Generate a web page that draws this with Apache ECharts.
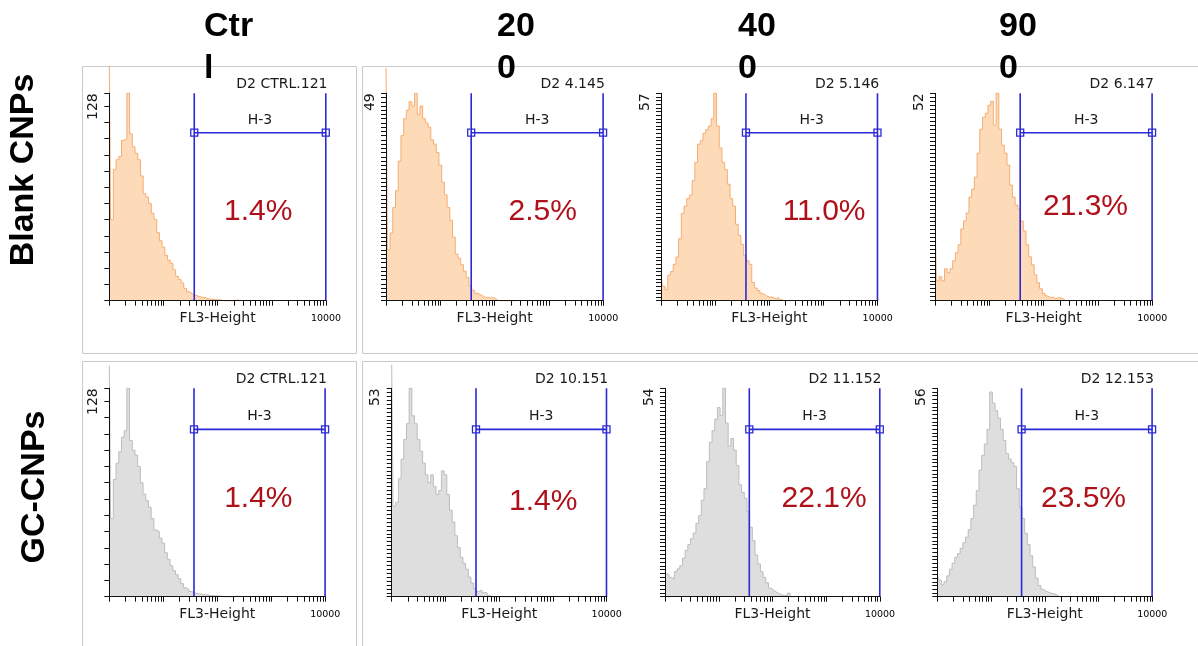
<!DOCTYPE html>
<html><head><meta charset="utf-8">
<script src="https://cdn.jsdelivr.net/npm/echarts@6/dist/echarts.min.js"></script>
<style>html,body{margin:0;padding:0;background:#fff}#c{width:1198px;height:646px}</style>
</head><body><div id="c"></div>
<script>
// ---------- data ----------
// histogram bin centres, log10(FL3-Height) in decades
const bins = [0.00,0.05,0.10,0.15,0.20,0.25,0.30,0.35,0.40,0.45,0.50,0.55,0.60,0.65,0.70,0.75,0.80,0.85,0.90,0.95,
              1.00,1.05,1.10,1.15,1.20,1.25,1.30,1.35,1.40,1.45,1.50,1.55,1.60,1.65,1.70,1.75,1.80,1.85,1.90,1.95,
              2.00,2.05,2.10,2.15,2.20,2.25,2.30,2.35,2.40];
const columnLabels = ['Ctrl','200','400','900'];
const rowLabels = ['Blank CNPs','GC-CNPs'];
const sampleIds = ['D2 CTRL.121','D2 4.145','D2 5.146','D2 6.147','D2 CTRL.121','D2 10.151','D2 11.152','D2 12.153'];
const yMax = [128,49,57,52,128,53,54,56];
const yTickStep = [10,1,1,1,10,1,1,1];
const gatedPercent = ['1.4%','2.5%','11.0%','21.3%','1.4%','1.4%','22.1%','23.5%'];
const gateName = 'H-3';
const gateRange = [37, 9910];          // FL3-Height marker limits
const xAxisLabelValues = [10000];
const xAxisName = 'FL3-Height';

const blankCtrl = [145,50,81,87,89,99,100,128,103,95,91,87,77,66,64,60,54,50,42,37,
                   33,28,25,23,19,15,13,11,7.6,5.6,4.5,3.5,3,2.5,2,1.8,1.2,1.0,0.8,0.5,
                   0.5,0.3,0,0,0,0,0,0.5,0];
const blank200  = [55,12,16,22,26,33,39,43,45,47,46,49,44,46,43,42,41,38,37,35,
                   32,28,25,22,19,15,11,10,8.5,7,5.5,3.5,2.5,1.8,1.5,1.2,0.8,0.8,0.6,0.8,
                   0.4,0,0,0,0,0,0,0,0];
const blank400  = [7.5,4,3,7,8,10,12,17,24,26,28,29,33,38,43,44,46,47,48,50,
                   57,48,42,38,36,32,28,26,21,18,15.5,12.5,11,10,5,3.5,2.8,2,1.6,1.1,
                   1.0,0.9,0.5,0.9,0.3,0,0,0,0];
const blank900  = [22,5,6,5,8,7,8,10,12,14,18,20,22,26,28,31,37,43,46,47,
                   49,50,44,52,43,39,37,34,29,26,24,23,20,17.5,14,11,9,6.5,4.5,3,
                   1.8,1.2,0.8,0.9,0.5,0.8,0.6,0.4,0];
const gcCtrl    = [142,48,72,82,89,98,102,128,96,90,87,80,70,63,59,55,48,41,40,36,
                   33,27,23,19,16,13.5,11,8,5.5,4.5,3.2,2.5,2,1.8,1.4,1.2,1.0,0.8,0.6,0.5,
                   0.4,0.3,0,0,0,0,0,0.5,0];
const gc200     = [59,23,24,30,35,40,44,53,46,44,40,37,34,31,29,31,28,26,27,32,
                   31,26,22,19,15.5,12.5,10,8.5,7,5,3.5,2.1,1.3,1.7,1.1,1.0,0.3,0,0,0,
                   0,0,0,0,0,0,0,0,0];
const gc400     = [6.5,5.8,5,4.6,6.5,7.2,8,10,12,13.5,15,16.5,19,21,25,28,35,40,43,46,
                   49,47,54,45,39,41,38,34,29,27,25.5,22,18,14.5,10.8,8.5,6.5,5,3.6,2.2,
                   1.7,1.2,0.8,0.5,0.3,0.3,0.9,0,0];
const gc900     = [6,4.5,3.2,4,5.6,7.4,9,10.6,11.6,13,14.5,16,18,21,24.6,28.5,34,38,41,45,
                   55,52,50,48,45,42,38.5,37,36,35,29,24,21,17,14,11,8,5,3,2,
                   1.5,1.2,0.9,0.8,0.5,0,0,0,0];
const histograms = [blankCtrl,blank200,blank400,blank900,gcCtrl,gc200,gc400,gc900];

// ---------- layout / style ----------
const layout = [
  {left:109.3, width:216.7, top:93.3,  height:207.4, pct:[2.75,0.43],  gateY:0.81,  nameY:0.871},
  {left:386.0, width:217.3, top:93.3,  height:207.4, pct:[2.885,0.43], gateY:0.81,  nameY:0.871},
  {left:661.0, width:216.7, top:93.3,  height:207.4, pct:[3.01,0.43],  gateY:0.81,  nameY:0.871},
  {left:935.0, width:217.3, top:93.3,  height:207.4, pct:[2.77,0.455], gateY:0.81,  nameY:0.871},
  {left:109.3, width:216.0, top:388.3, height:208.4, pct:[2.76,0.472], gateY:0.803, nameY:0.864},
  {left:391.7, width:215.0, top:388.3, height:208.4, pct:[2.82,0.457], gateY:0.803, nameY:0.864},
  {left:665.0, width:215.0, top:388.3, height:208.4, pct:[2.96,0.472], gateY:0.803, nameY:0.864},
  {left:937.3, width:215.0, top:388.3, height:208.4, pct:[2.72,0.472], gateY:0.803, nameY:0.864}
];
const headerX = [204, 497, 738, 999];
const rowLabelPos = [[24,170],[35,487]];
const fills = [
  {line:'#f6ad72', area:'#fddbb9'},
  {line:'#bdbdbd', area:'#dedede'}
];
const BLUE = '#2a2ad6', RED = '#b0101a', INK = '#1a1a1a';
const SMALL = 'DejaVu Sans, Verdana, sans-serif';
const BIG = '"Liberation Sans", Arial, Helvetica, sans-serif';

// ---------- build ----------
const L = Math.log10;
const tickDecades = [];
for (let d = 0; d < 4; d++) for (let k = 1; k <= 9; k++) tickDecades.push(L(k * Math.pow(10, d)));
tickDecades.push(4);
const gL = L(gateRange[0]), gR = L(gateRange[1]), gMid = (gL + gR) / 2;

const grid = [], xAxis = [], yAxis = [], series = [], graphic = [];
layout.forEach((p, i) => {
  const style = fills[i < 4 ? 0 : 1];
  grid.push({left:p.left, top:p.top, width:p.width, height:p.height, containLabel:false});
  xAxis.push({
    gridIndex:i, type:'value', min:0, max:4, z:5,
    axisLine:{show:true, onZero:false, lineStyle:{color:'#111', width:1}},
    axisTick:{show:true, customValues:tickDecades, length:5, lineStyle:{color:'#111', width:1}},
    axisLabel:{customValues:xAxisLabelValues.map(L), formatter:v => String(Math.round(Math.pow(10, v))),
               fontSize:9.5, fontFamily:SMALL, color:'#000', margin:12.5},
    splitLine:{show:false},
    name:xAxisName, nameLocation:'middle', nameGap:11, nameMoveOverlap:false,
    nameTextStyle:{fontSize:14, fontFamily:SMALL, color:INK}
  });
  yAxis.push({
    gridIndex:i, type:'value', min:0, max:yMax[i], interval:yTickStep[i], z:5,
    axisLine:{show:true, onZero:false, lineStyle:{color:'#111', width:1}},
    axisTick:{show:true, length:5, lineStyle:{color:'#111', width:1}},
    splitLine:{show:false},
    axisLabel:{formatter:v => (v === yMax[i] ? String(v) : ''), rotate:90, align:'right', verticalAlign:'bottom',
               margin:9, fontSize:14, fontFamily:SMALL, color:INK}
  });
  yAxis.push({gridIndex:i, type:'value', min:0, max:1, show:false});
  const cy = 2 * i, gy = 2 * i + 1;
  series.push({
    type:'line', xAxisIndex:i, yAxisIndex:cy, step:'middle', symbol:'none', clip:false, z:2, silent:true,
    data:bins.map((b, j) => [b, histograms[i][j]]),
    lineStyle:{color:style.line, width:1}, areaStyle:{color:style.area, opacity:1}
  });
  const gateLine = (data) => ({
    type:'line', xAxisIndex:i, yAxisIndex:gy, symbol:'none', z:4, silent:true, data,
    lineStyle:{color:BLUE, width:1.6}
  });
  series.push(gateLine([[gL,0],[gL,1]]));
  series.push(gateLine([[gR,0],[gR,1]]));
  series.push(gateLine([[gL,p.gateY],[gR,p.gateY]]));
  series.push({
    type:'scatter', xAxisIndex:i, yAxisIndex:gy, symbol:'rect', symbolSize:7, z:6, silent:true,
    data:[[gL,p.gateY],[gR,p.gateY]],
    itemStyle:{color:'rgba(255,255,255,0)', borderColor:BLUE, borderWidth:1.3, opacity:1}
  });
  series.push({
    type:'scatter', xAxisIndex:i, yAxisIndex:gy, symbol:'circle', symbolSize:1, z:6, silent:true,
    itemStyle:{color:'rgba(0,0,0,0)', opacity:1},
    data:[
      {value:[gMid, p.nameY], label:{show:true, position:'inside', formatter:gateName,
        fontSize:14, fontFamily:SMALL, color:INK}},
      {value:p.pct, label:{show:true, position:'inside', formatter:gatedPercent[i],
        fontSize:30, fontFamily:BIG, color:RED}}
    ]
  });
  graphic.push({type:'text', z:50, style:{text:sampleIds[i], x:p.left + p.width + 1.5, y:p.top - 9,
    align:'right', verticalAlign:'middle', font:'14px ' + SMALL, fill:INK}});
});

// panel frames
[[82.5,66.5,274,287],[362.5,66.5,840,287],[82.5,361.5,274,292],[362.5,361.5,840,292]].forEach(r => {
  graphic.push({type:'rect', z:-10, shape:{x:r[0], y:r[1], width:r[2], height:r[3]},
    style:{fill:'none', stroke:'#c9c9c9', lineWidth:1}});
});
// column headers
columnLabels.forEach((t, k) => {
  graphic.push({type:'text', z:100, style:{text:t.slice(0, -1) + '\n' + t.slice(-1), x:headerX[k], y:6,
    align:'left', verticalAlign:'top', font:'bold 34px ' + BIG, lineHeight:41.5, fill:'#000'}});
});
// row labels
rowLabels.forEach((t, k) => {
  graphic.push({type:'text', z:100, x:rowLabelPos[k][0], y:rowLabelPos[k][1], rotation:Math.PI / 2,
    style:{text:t, x:0, y:0, align:'center', verticalAlign:'middle', font:'bold 34px ' + BIG, fill:'#000'}});
});

const chart = echarts.init(document.getElementById('c'), null, {renderer:'canvas'});
chart.setOption({animation:false, backgroundColor:'#fff', grid, xAxis, yAxis, series, graphic});
</script></body></html>
